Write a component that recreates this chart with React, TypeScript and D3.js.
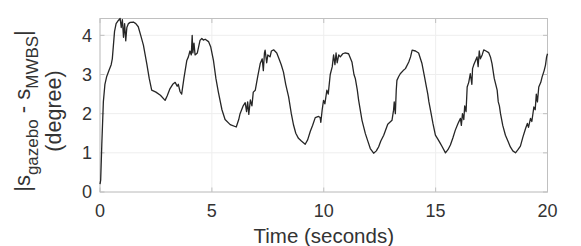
import React from "react";
import * as d3 from "d3";

// time (seconds) and |s_gazebo - s_MWBS| (degree)
const times: number[] = [
  0.0, 0.03, 0.08, 0.15, 0.22, 0.3, 0.4, 0.5, 0.55, 0.6, 0.65, 0.72, 0.82, 0.9, 0.95, 1.0, 1.05, 1.1, 1.15, 1.2,
  1.27, 1.35, 1.49, 1.6, 1.71, 1.82, 1.94, 2.09, 2.2, 2.31, 2.5, 2.7, 2.91, 3.0, 3.13, 3.25, 3.36, 3.45, 3.5, 3.58,
  3.65, 3.75, 3.88, 3.95, 4.02, 4.08, 4.12, 4.15, 4.2, 4.25, 4.35, 4.47, 4.55, 4.62, 4.7, 4.85, 4.95, 5.07, 5.18, 5.29,
  5.45, 5.59, 5.82, 6.09, 6.2, 6.26, 6.4, 6.49, 6.55, 6.6, 6.65, 6.72, 6.79, 6.85, 6.94, 7.05, 7.16, 7.25, 7.3, 7.35,
  7.38, 7.45, 7.5, 7.6, 7.66, 7.76, 7.9, 8.0, 8.1, 8.2, 8.3, 8.43, 8.55, 8.65, 8.75, 8.87, 9.0, 9.17, 9.28, 9.4,
  9.5, 9.62, 9.77, 9.84, 9.87, 9.93, 9.99, 10.05, 10.14, 10.2, 10.29, 10.38, 10.44, 10.5, 10.55, 10.6, 10.67, 10.74, 10.85, 10.96,
  11.11, 11.26, 11.35, 11.41, 11.5, 11.56, 11.71, 11.86, 11.97, 12.08, 12.23, 12.35, 12.4, 12.45, 12.55, 12.68, 12.86, 13.05, 13.12, 13.15,
  13.2, 13.24, 13.27, 13.35, 13.42, 13.55, 13.65, 13.8, 13.88, 13.95, 14.1, 14.24, 14.39, 14.5, 14.59, 14.65, 14.7, 14.77, 14.88, 14.99,
  15.1, 15.21, 15.3, 15.44, 15.55, 15.66, 15.77, 15.88, 16.0, 16.11, 16.15, 16.2, 16.26, 16.3, 16.36, 16.41, 16.48, 16.55, 16.62, 16.65,
  16.7, 16.78, 16.85, 16.9, 16.95, 17.0, 17.08, 17.15, 17.25, 17.37, 17.45, 17.52, 17.62, 17.75, 17.8, 17.85, 17.9, 18.0, 18.12, 18.23,
  18.34, 18.45, 18.57, 18.68, 18.79, 18.9, 19.02, 19.1, 19.15, 19.24, 19.3, 19.39, 19.45, 19.5, 19.55, 19.61, 19.7, 19.76, 19.85, 19.91,
  19.96, 20.0,
];
const errors: number[] = [
  0.2, 0.3, 1.2, 2.3, 2.75, 2.95, 3.1, 3.25, 3.4, 3.75, 4.1, 4.3, 4.38, 4.43, 4.2, 4.4, 3.95, 4.3, 3.86, 4.2,
  4.3, 4.33, 4.34, 4.3, 4.22, 4.0, 3.75, 3.28, 2.9, 2.6, 2.55, 2.47, 2.34, 2.45, 2.64, 2.75, 2.8, 2.7, 2.75, 2.56,
  2.5, 2.9, 3.36, 3.45, 3.6, 3.5, 4.0, 3.55, 3.8, 3.5, 3.55, 3.87, 3.92, 3.88, 3.9, 3.84, 3.7, 3.36, 2.9, 2.55,
  2.1, 1.85, 1.72, 1.66, 1.85, 2.0, 2.2, 2.28, 2.05, 2.3, 1.98, 2.35, 2.2, 2.55, 2.6, 2.95, 3.28, 3.4, 3.1, 3.55,
  3.62, 3.3, 3.5, 3.45, 3.6, 3.63, 3.55, 3.4, 3.25, 3.06, 2.75, 2.43, 2.0, 1.71, 1.5, 1.37, 1.3, 1.22, 1.33, 1.55,
  1.7, 1.9, 1.93, 1.9, 1.78, 2.1, 2.34, 2.25, 2.6, 2.5, 3.0, 3.2, 3.5, 3.25, 3.55, 3.3, 3.5, 3.45, 3.53, 3.55,
  3.53, 3.32, 3.0, 2.9, 2.6, 2.34, 1.83, 1.49, 1.3, 1.11, 0.99, 1.05, 1.1, 1.15, 1.3, 1.45, 1.73, 1.83, 2.09, 2.3,
  2.0, 2.6, 2.85, 2.95, 3.02, 3.1, 3.15, 3.32, 3.45, 3.62, 3.6, 3.55, 3.28, 2.95, 2.68, 2.5, 2.3, 2.09, 1.75, 1.45,
  1.35, 1.24, 1.15, 1.0, 1.08, 1.2, 1.38, 1.58, 1.75, 1.88, 1.7, 2.0, 1.85, 2.2, 2.05, 2.68, 2.8, 3.02, 2.75, 3.15,
  3.24, 3.35, 3.45, 3.2, 3.6, 3.4, 3.5, 3.63, 3.6, 3.56, 3.45, 3.28, 2.9, 2.6, 2.3, 2.2, 2.0, 1.7, 1.45, 1.3,
  1.15, 1.05, 1.0, 1.08, 1.17, 1.4, 1.62, 1.75, 1.65, 1.88, 1.8, 2.17, 2.1, 2.5, 2.3, 2.68, 2.8, 2.94, 3.1, 3.24,
  3.45, 3.53,
];
const xTicks: number[] = [0, 5, 10, 15, 20];
const yTicks: number[] = [0, 1, 2, 3, 4];

const App: React.FC = () => {
  const width = 581;
  const height = 246;
  const left = 100;
  const right = 547.5;
  const top = 18.5;
  const bottom = 192;
  const font = "Liberation Sans, Arial, Helvetica, sans-serif";

  const x = d3.scaleLinear().domain([0, 20]).range([left, right]);
  const y = d3.scaleLinear().domain([0, 4.43]).range([bottom, top]);

  const line = d3
    .line<number>()
    .x((_, i) => x(times[i]))
    .y((d) => y(d));

  const cy = 111;

  return (
    <svg
      width={width}
      height={height}
      style={{ position: "absolute", left: 0, top: 0, background: "#fff" }}
      fontFamily={font}
    >
      {/* grid */}
      {yTicks.map((t) => (
        <line key={`gy${t}`} x1={left} x2={right} y1={y(t)} y2={y(t)} stroke="#eeeeee" strokeWidth={1} />
      ))}
      {xTicks.map((t) => (
        <line key={`gx${t}`} x1={x(t)} x2={x(t)} y1={top} y2={bottom} stroke="#eeeeee" strokeWidth={1} />
      ))}
      {/* box */}
      <rect x={left} y={top} width={right - left} height={bottom - top} fill="none" stroke="#c0c0c0" strokeWidth={1} />
      {/* inner tick marks */}
      {yTicks.map((t) => (
        <g key={`ty${t}`} stroke="#c0c0c0">
          <line x1={left} x2={left + 4.5} y1={y(t)} y2={y(t)} />
          <line x1={right - 4.5} x2={right} y1={y(t)} y2={y(t)} />
        </g>
      ))}
      {xTicks.map((t) => (
        <g key={`tx${t}`} stroke="#c0c0c0">
          <line x1={x(t)} x2={x(t)} y1={bottom} y2={bottom - 4.5} />
          <line x1={x(t)} x2={x(t)} y1={top} y2={top + 4.5} />
        </g>
      ))}
      {/* data */}
      <path d={line(errors) ?? ""} fill="none" stroke="#262626" strokeWidth={1.3} strokeLinejoin="round" />
      {/* y tick labels */}
      {yTicks.map((t) => (
        <text key={`ly${t}`} x={92} y={y(t)} dy="0.35em" textAnchor="end" fontSize={18} fill="#333">
          {t}
        </text>
      ))}
      {/* x tick labels */}
      {xTicks.map((t) => (
        <text key={`lx${t}`} x={x(t)} y={217} textAnchor="middle" fontSize={18} fill="#333">
          {t}
        </text>
      ))}
      <text x={(left + right) / 2} y={243} textAnchor="middle" fontSize={20.5} fill="#333">
        Time (seconds)
      </text>
      {/* y label */}
      <g transform={`translate(30, ${cy}) rotate(-90)`}>
        <text textAnchor="middle" fontSize={22} fill="#333">
          <tspan>|s</tspan>
          <tspan fontSize={17} dy={8}>gazebo</tspan>
          <tspan dy={-8}> - s</tspan>
          <tspan fontSize={17} dy={8}>MWBS</tspan>
          <tspan dy={-8}>|</tspan>
        </text>
      </g>
      <text transform={`translate(61, ${cy}) rotate(-90)`} textAnchor="middle" fontSize={21.5} fill="#333">
        (degree)
      </text>
    </svg>
  );
};

export default App;
